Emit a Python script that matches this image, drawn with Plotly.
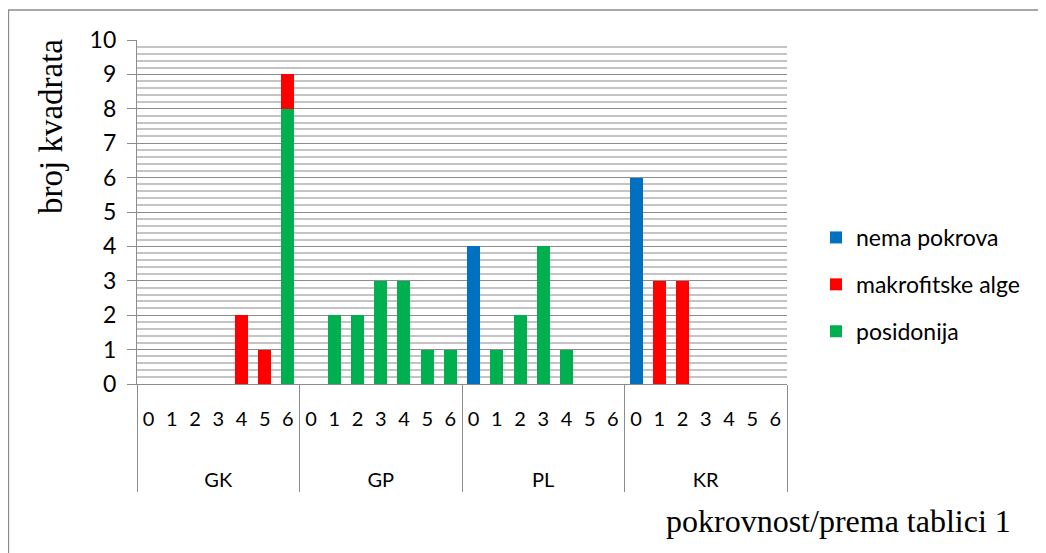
import plotly.graph_objects as go

groups = ["GK", "GP", "PL", "KR"]
levels = ["0", "1", "2", "3", "4", "5", "6"]

# values per group, for levels 0..6
nema_pokrova = {
    "GK": [0, 0, 0, 0, 0, 0, 0],
    "GP": [0, 0, 0, 0, 0, 0, 0],
    "PL": [4, 0, 0, 0, 0, 0, 0],
    "KR": [6, 0, 0, 0, 0, 0, 0],
}
makrofitske_alge = {
    "GK": [0, 0, 0, 0, 2, 1, 1],
    "GP": [0, 0, 0, 0, 0, 0, 0],
    "PL": [0, 0, 0, 0, 0, 0, 0],
    "KR": [0, 3, 3, 0, 0, 0, 0],
}
posidonija = {
    "GK": [0, 0, 0, 0, 0, 0, 8],
    "GP": [0, 2, 2, 3, 3, 1, 1],
    "PL": [0, 1, 2, 4, 1, 0, 0],
    "KR": [0, 0, 0, 0, 0, 0, 0],
}

# group labels carry leading line breaks so that row sits lower, as in the reference
x_outer = ["<br><br>" + g for g in groups for _ in levels]
x_inner = [l for _ in groups for l in levels]


def flat(d):
    return [v for g in groups for v in d[g]]


fig = go.Figure()
series = [
    ("posidonija", posidonija, "#00B050", 3),
    ("makrofitske alge", makrofitske_alge, "#FF0000", 2),
    ("nema pokrova", nema_pokrova, "#0070C0", 1),
]
for name, d, col, rank in series:
    fig.add_trace(go.Bar(
        x=[x_outer, x_inner], y=flat(d), name=name, legendgroup=name,
        legendrank=rank,
        marker=dict(color=col, line=dict(width=0)),
    ))

# page body has an 8px margin, so figure coords = screen coords - 8
OFF = 8
W, H = 1046 - OFF, 553 - OFF
L, R, T, B = 137 - OFF, 787 - OFF, 40 - OFF, 384 - OFF
pw, ph = R - L, B - T

SANS = "Lato, 'Noto Sans', sans-serif"
SERIF = "'Liberation Serif', 'Times New Roman', serif"

fig.update_layout(
    width=W, height=H,
    barmode="stack", bargap=0.44,
    plot_bgcolor="white", paper_bgcolor="white",
    margin=dict(l=L, r=W - R, t=T, b=H - B, autoexpand=False),
    font=dict(family=SANS, size=21, color="black"),
    showlegend=True,
    legend=dict(
        traceorder="grouped", x=(816 - OFF - L) / pw, y=(B - (216 - OFF)) / ph,
        xanchor="left", yanchor="top",
        font=dict(size=23, family=SANS),
        tracegroupgap=14, itemwidth=30,
        bgcolor="rgba(0,0,0,0)",
    ),
    annotations=[
        dict(text="pokrovnost/prema tablici 1", xref="paper", yref="paper",
             x=(1013 - OFF - L) / pw, y=(B - (521 - OFF)) / ph,
             xanchor="right", yanchor="middle",
             showarrow=False, font=dict(family=SERIF, size=32)),
        dict(text="broj kvadrata", xref="paper", yref="paper",
             x=(51 - OFF - L) / pw, y=(B - (126 - OFF)) / ph,
             xanchor="center", yanchor="middle",
             textangle=-90, showarrow=False,
             font=dict(family=SERIF, size=33)),
    ],
    shapes=[
        dict(type="rect", xref="paper", yref="paper",
             x0=(0.5 - L) / pw, x1=(1037 - L) / pw,
             y0=(B - 600) / ph, y1=(B - 2) / ph,
             line=dict(color="#8C8C8C", width=1.3),
             fillcolor="rgba(0,0,0,0)", layer="below"),
    ],
)

fig.update_yaxes(
    range=[0, 10], dtick=1, tick0=0,
    showgrid=True, gridcolor="#8C8C8C", gridwidth=1.2,
    minor=dict(dtick=0.2, showgrid=True, gridcolor="#C4C4C4", gridwidth=1.5, ticks=""),
    showline=True, linecolor="#8C8C8C", linewidth=1.3,
    ticks="outside", ticklen=9, tickcolor="#8C8C8C", tickwidth=1.3,
    tickfont=dict(size=23), zeroline=False, automargin=False,
    ticklabelstandoff=6,
)
fig.update_xaxes(
    type="multicategory",
    tickmode="linear", dtick=1, tick0=0,
    showline=True, linecolor="#8C8C8C", linewidth=1.3,
    showdividers=True, dividercolor="#8C8C8C", dividerwidth=1.3,
    tickfont=dict(size=20), ticks="", showgrid=False,
    ticklabelstandoff=17, automargin=False,
)

fig.write_html("out.html")
